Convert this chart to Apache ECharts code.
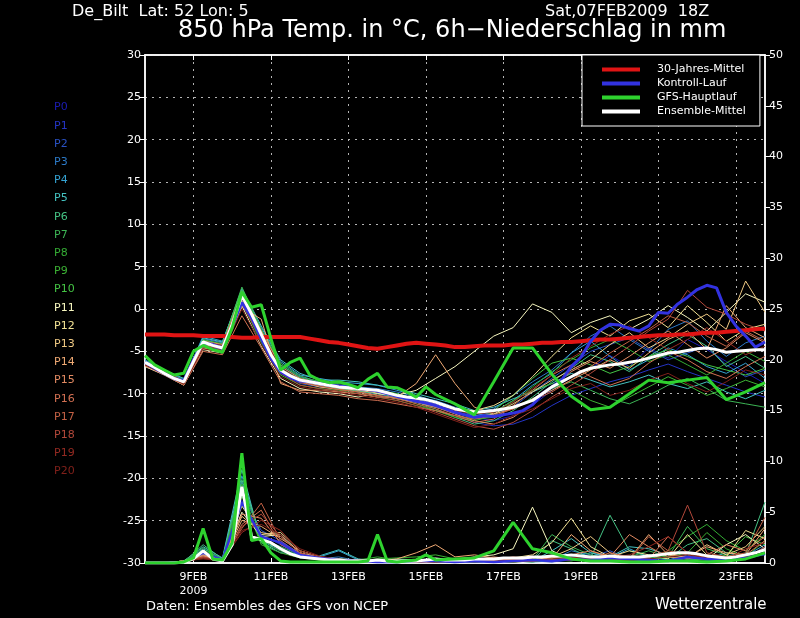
<!DOCTYPE html>
<html><head><meta charset="utf-8">
<script src="https://cdn.jsdelivr.net/npm/echarts@6/dist/echarts.min.js"></script>
<style>html,body{margin:0;padding:0;background:#000;}#c{width:800px;height:618px;}</style>
</head><body><div id="c"></div>
<script>
// x-axis tick labels (6-hourly steps from 07FEB 18Z)
const xLabelIndex = [5,13,21,29,37,45,53,61];
const xLabelText = ['9FEB\n2009','11FEB','13FEB','15FEB','17FEB','19FEB','21FEB','23FEB'];

const memberNames = ['P0','P1','P2','P3','P4','P5','P6','P7','P8','P9','P10','P11','P12','P13','P14','P15','P16','P17','P18','P19','P20'];
const memberColors = ['#1c1cb4','#2434c4','#2a52c4','#2c7ac8','#34a2d2','#44c2c0','#44c284','#3cb454','#34ac34','#3cb234','#44c444','#f8f8c0','#f2e294','#f0ca84','#f0aa74','#e28a62','#d27052','#c26044','#b2483a','#942a22','#80201a'];

// 30-Jahres-Mittel, 6-hourly temperature
const clim30 = [-3.0,-3.0,-3.0,-3.1,-3.1,-3.1,-3.2,-3.2,-3.2,-3.3,-3.4,-3.4,-3.3,-3.3,-3.3,-3.3,-3.3,-3.5,-3.7,-3.9,-4.0,-4.2,-4.4,-4.6,-4.7,-4.5,-4.3,-4.1,-4.0,-4.1,-4.2,-4.3,-4.5,-4.5,-4.4,-4.3,-4.3,-4.3,-4.2,-4.2,-4.1,-4.0,-4.0,-3.9,-3.9,-3.8,-3.7,-3.6,-3.6,-3.5,-3.4,-3.3,-3.2,-3.1,-3.1,-3.0,-3.0,-2.9,-2.8,-2.8,-2.7,-2.6,-2.5,-2.4,-2.3];
// Kontroll-Lauf, 6-hourly temperature
const ctrlTemp = [-6.3,-7.0,-7.6,-8.2,-8.5,-6.0,-4.0,-4.2,-4.6,-2.0,0.8,-1.0,-3.5,-5.8,-7.4,-8.1,-8.5,-8.6,-8.8,-9.0,-9.1,-9.2,-9.4,-9.5,-9.7,-10.0,-10.3,-10.6,-10.9,-11.1,-11.4,-11.8,-12.2,-12.5,-12.8,-12.6,-12.7,-12.5,-12.3,-12.0,-11.3,-10.0,-9.2,-8.4,-6.8,-5.7,-3.8,-2.5,-1.8,-1.9,-2.3,-2.6,-2.0,-0.4,-0.5,0.6,1.4,2.3,2.8,2.5,-0.4,-2.0,-3.2,-4.5,-3.9];
// GFS-Hauptlauf, temperature (12-hourly after day 7.5)
const gfsTemp = [-5.5,-6.6,-7.2,-7.8,-7.6,-5.0,-4.3,-4.8,-5.1,-2.2,2.0,0.2,0.5,-3.5,-7.2,-6.3,-5.8,-7.8,-8.4,-8.7,-8.6,-8.9,-9.3,-8.3,-7.6,-9.2,-9.3,-9.8,-10.4,-9.2,-10.1,null,-11.2,null,-12.5,null,-8.6,null,-4.6,null,-4.6,null,-7.7,null,-10.3,null,-11.9,null,-11.6,null,-10.0,null,-8.4,null,-8.7,null,-8.4,null,-8.1,null,-10.7,null,-9.8,null,-8.7];
// Ensemble-Mittel, 6-hourly temperature
const meanTemp = [-6.3,-6.9,-7.6,-8.2,-8.6,-6.2,-3.9,-4.3,-4.6,-1.8,1.6,-0.6,-3.0,-5.4,-7.2,-7.9,-8.4,-8.6,-8.8,-9.0,-9.2,-9.3,-9.4,-9.5,-9.6,-9.9,-10.2,-10.4,-10.5,-10.7,-11.0,-11.4,-11.8,-12.0,-12.2,-12.1,-12.0,-11.8,-11.6,-11.2,-10.8,-10.0,-9.2,-8.6,-8.0,-7.4,-7.0,-6.8,-6.6,-6.5,-6.3,-6.1,-5.8,-5.5,-5.2,-5.1,-4.9,-4.7,-4.6,-4.8,-5.1,-5.0,-4.9,-4.8,-4.8];

// precipitation (mm / 6h)
const gfsPrec = [0,0,0,0,0.1,0.5,3.4,0.4,0.3,2.0,10.8,2.2,2.4,1.0,0.2,0.1,0.1,0.1,0.1,0.1,0.1,0.1,0.1,0.2,2.8,0.2,0.1,0.2,0.3,0.8,0.3,null,0.4,null,0.5,null,1.2,null,4.0,null,1.4,null,1.0,null,0.4,null,0.2,null,0.2,null,0.1,null,0.1,null,0.2,null,0.2,null,0.1,null,0.2,null,0.4,null,1.0];
const meanPrec = [0,0,0,0,0.1,0.4,1.2,0.4,0.2,1.8,7.5,2.6,2.3,2.0,1.4,0.9,0.6,0.5,0.4,0.3,0.3,0.2,0.2,0.2,0.3,0.2,0.2,0.2,0.2,0.3,0.4,0.3,0.3,0.3,0.4,0.4,0.4,0.5,0.5,0.5,0.6,0.6,0.7,0.7,0.8,0.7,0.6,0.6,0.7,0.6,0.6,0.6,0.7,0.8,0.9,1.0,1.0,0.9,0.7,0.6,0.5,0.6,0.8,1.0,1.3];
const ctrlPrec12 = [0,0,0.1,1.0,0.3,6.0,2.6,2.0,0.8,0.5,0.3,0.2,0.1,0.1,0.2,0.2,0.1,0.2,0.1,0.2,0.3,0.2,0.4,0.3,0.5,0.4,0.3,0.2,0.6,0.4,0.3,0.5,0.9];

// members, 12-hourly temperature
const tempP0 = [-6.4,-7.5,-8.6,-4.2,-4.6,1.2,-3.5,-7.3,-8.6,-9.0,-9.3,-9.6,-9.8,-10.4,-10.8,-11.4,-12.0,-12.8,-13.2,-12.6,-11.4,-9.6,-8.0,-7.0,-5.5,-6.8,-4.6,-5.8,-3.6,-4.8,-6.2,-7.5,-8.8];
const tempP1 = [-6.2,-7.4,-8.5,-3.8,-4.4,1.8,-2.8,-6.8,-8.2,-8.8,-9.1,-9.4,-9.7,-10.2,-10.6,-11.2,-12.4,-13.4,-13.8,-13.6,-12.8,-11.4,-10.2,-9.4,-8.6,-8.0,-7.2,-6.5,-7.4,-8.2,-9.0,-9.8,-10.4];
const tempP2 = [-6.5,-7.6,-8.8,-4.4,-4.8,1.0,-3.8,-7.6,-8.8,-9.2,-9.4,-9.8,-10.0,-10.6,-11.0,-11.6,-12.2,-12.6,-12.4,-11.6,-9.8,-8.2,-6.6,-5.0,-4.2,-3.4,-4.8,-6.0,-5.2,-4.4,-6.6,-8.0,-7.2];
const tempP3 = [-6.0,-7.2,-8.3,-3.5,-4.0,2.2,-2.6,-6.6,-8.0,-8.6,-9.0,-9.2,-9.4,-9.8,-10.4,-10.8,-11.6,-12.2,-11.8,-10.2,-8.6,-7.2,-5.2,-3.2,-2.0,-3.6,-5.0,-2.4,-1.4,-3.8,-5.6,-4.0,-3.2];
const tempP4 = [-6.3,-7.3,-8.4,-3.2,-3.8,2.0,-2.2,-6.2,-7.8,-8.2,-8.6,-8.8,-9.0,-9.6,-10.2,-10.9,-11.8,-12.6,-12.2,-10.8,-9.0,-7.6,-5.2,-3.8,-5.6,-7.2,-6.0,-4.6,-5.4,-6.8,-7.6,-6.4,-8.2];
const tempP5 = [-6.1,-7.2,-8.2,-3.4,-3.9,2.4,-2.0,-6.0,-7.6,-8.4,-8.4,-8.6,-9.0,-9.4,-10.0,-10.6,-11.2,-12.0,-11.6,-10.6,-9.8,-8.8,-7.6,-8.4,-9.2,-8.6,-7.8,-8.8,-9.4,-8.6,-9.8,-10.6,-9.6];
const tempP6 = [-6.4,-7.6,-8.7,-4.0,-4.5,1.4,-3.2,-7.2,-8.4,-9.0,-9.4,-9.7,-10.0,-10.4,-11.0,-11.8,-12.8,-13.6,-13.2,-12.0,-10.4,-8.6,-7.0,-5.4,-6.2,-7.4,-5.6,-4.2,-3.0,-4.4,-6.8,-5.6,-7.0];
const tempP7 = [-6.2,-7.4,-8.4,-3.6,-4.2,2.6,-2.4,-6.4,-7.9,-8.6,-8.8,-9.2,-9.6,-10.0,-10.8,-11.4,-12.2,-13.0,-12.8,-11.6,-10.6,-9.4,-8.6,-9.6,-10.6,-11.2,-10.2,-9.0,-8.2,-9.4,-10.8,-11.2,-11.6];
const tempP8 = [-6.6,-7.7,-8.9,-4.6,-5.0,0.8,-4.0,-7.8,-9.0,-9.4,-9.6,-10.0,-10.4,-10.8,-11.4,-12.0,-12.8,-13.2,-12.6,-11.0,-9.2,-7.4,-6.0,-4.6,-3.6,-4.8,-6.2,-5.4,-6.6,-7.8,-6.4,-5.0,-6.2];
const tempP9 = [-6.3,-7.5,-8.6,-3.9,-4.3,1.9,-2.9,-7.0,-8.3,-8.8,-9.2,-9.5,-9.8,-10.4,-11.2,-12.0,-12.6,-13.0,-12.2,-10.8,-9.6,-8.8,-9.6,-10.8,-11.6,-10.4,-9.2,-8.0,-9.0,-10.2,-9.4,-8.4,-9.2];
const tempP10 = [-6.2,-7.4,-8.5,-3.7,-4.1,2.2,-2.5,-6.6,-8.1,-8.7,-9.0,-9.3,-9.6,-10.0,-10.6,-11.0,-11.8,-12.4,-12.0,-10.2,-8.2,-6.4,-5.8,-6.6,-7.6,-6.8,-5.6,-4.8,-5.6,-6.6,-7.2,-7.8,-7.0];
const tempP11 = [-6.8,-7.8,-9.0,-4.8,-5.2,0.4,-4.4,-8.2,-9.4,-9.8,-10.0,-10.4,-10.0,-10.2,-9.6,-8.2,-6.8,-5.0,-3.2,-2.2,0.6,-0.4,-2.8,-1.6,-0.8,-2.4,-1.2,0.4,-1.0,-2.6,-0.4,1.8,0.8];
const tempP12 = [-6.5,-7.6,-8.7,-4.2,-4.6,1.6,-3.0,-7.2,-8.5,-9.0,-9.3,-9.6,-9.9,-10.3,-10.7,-11.3,-11.8,-12.0,-11.4,-10.2,-8.0,-5.6,-3.4,-2.0,-3.2,-1.4,-0.6,-2.2,0.4,-1.6,-3.8,-2.4,-1.8];
const tempP13 = [-6.4,-7.5,-8.6,-4.0,-4.4,1.0,-3.4,-7.4,-8.6,-9.2,-9.5,-9.8,-10.2,-10.6,-11.0,-11.6,-12.2,-12.8,-12.4,-11.2,-9.8,-8.4,-7.2,-6.0,-4.2,-2.8,-4.6,-3.4,-1.8,-0.6,-2.4,3.3,-0.4];
const tempP14 = [-6.6,-7.6,-8.8,-4.6,-5.0,0.2,-1.2,-8.8,-9.6,-9.6,-9.8,-10.0,-10.4,-10.4,-8.8,-5.4,-8.8,-11.6,-12.4,-11.8,-10.6,-9.6,-8.4,-7.2,-6.0,-7.0,-5.2,-3.6,-2.6,-4.8,0.4,-2.2,-3.4];
const tempP15 = [-6.3,-7.4,-8.5,-3.8,-4.2,1.8,-2.6,-6.8,-8.2,-8.8,-9.1,-9.5,-9.8,-10.4,-11.0,-11.6,-12.4,-13.2,-13.6,-12.8,-11.2,-9.2,-7.4,-6.2,-7.0,-5.6,-4.0,-2.6,-4.2,-5.8,-4.6,-2.8,-4.0];
const tempP16 = [-6.7,-7.8,-9.0,-5.0,-5.4,-0.8,-4.6,-8.6,-9.8,-10.0,-10.2,-10.6,-10.8,-11.2,-11.6,-12.0,-12.6,-13.4,-13.0,-11.4,-9.6,-7.8,-6.6,-8.0,-9.0,-8.2,-6.4,-5.0,-6.0,-7.4,-8.2,-6.8,-5.6];
const tempP17 = [-6.4,-7.5,-8.6,-4.3,-4.7,1.3,-3.3,-7.4,-8.7,-9.1,-9.5,-9.8,-10.2,-10.6,-11.2,-11.8,-12.6,-13.0,-12.6,-11.8,-10.8,-9.8,-8.4,-6.8,-5.2,-3.8,-2.4,-0.8,-1.6,-3.2,-4.4,-2.6,-3.8];
const tempP18 = [-6.5,-7.6,-8.8,-4.5,-4.9,0.6,-3.6,-7.6,-9.0,-9.4,-9.7,-10.0,-10.4,-10.8,-11.4,-12.2,-13.0,-13.8,-14.2,-13.4,-12.0,-10.4,-9.0,-7.6,-6.0,-4.4,-2.6,-1.2,2.2,0.2,-0.6,-1.8,-2.6];
const tempP19 = [-6.3,-7.4,-8.5,-3.9,-4.3,1.5,-2.8,-7.0,-8.4,-8.9,-9.2,-9.5,-9.8,-10.2,-10.8,-11.4,-12.0,-12.4,-12.2,-11.0,-9.4,-7.8,-5.8,-4.4,-3.0,-2.0,-3.4,-4.8,-3.6,-2.2,-3.8,-5.4,-4.4];
const tempP20 = [-6.6,-7.7,-8.9,-4.7,-5.1,0.0,-4.2,-8.0,-9.2,-9.6,-9.9,-10.2,-10.6,-11.0,-11.6,-12.4,-13.2,-14.0,-13.6,-12.6,-11.8,-10.6,-9.4,-8.8,-10.2,-9.6,-8.4,-7.6,-8.8,-9.8,-8.6,-7.2,-7.8];

// members, 12-hourly precipitation
const precP0 = [0,0,0.1,0.8,0.2,6.2,2.4,1.6,0.6,0.4,0.2,0.1,0.1,0.1,0.2,0.3,0.2,0.1,0.2,0.1,0.3,0.2,0.4,0.2,0.3,0.6,0.3,0.2,0.4,0.3,0.5,0.8,1.2];
const precP1 = [0,0,0.2,1.0,0.3,7.4,2.8,1.8,0.7,0.5,0.3,0.1,0.1,0.2,0.1,0.2,0.1,0.2,0.1,0.2,0.2,0.4,0.3,0.5,0.2,0.4,0.2,0.3,0.2,0.4,0.3,0.6,1.4];
const precP2 = [0,0,0.1,0.9,0.2,6.8,3.2,2.2,0.9,0.6,0.4,0.2,0.1,0.1,0.2,0.2,0.1,0.1,0.2,0.3,0.2,0.1,0.3,0.6,1.2,0.4,0.3,0.2,0.5,0.3,0.4,0.9,0.8];
const precP3 = [0,0,0.2,1.2,0.3,8.0,2.6,1.4,0.6,0.4,0.6,0.2,0.1,0.2,0.1,0.3,0.2,0.1,0.1,0.2,0.4,0.3,1.2,0.8,0.4,0.2,0.3,0.6,0.4,0.3,0.2,0.5,1.6];
const precP4 = [0,0,0.1,1.4,0.4,8.6,2.2,1.2,0.8,0.6,1.2,0.3,0.2,0.1,0.2,0.2,0.1,0.2,0.3,0.2,0.1,0.2,0.6,1.0,0.5,1.4,0.6,0.3,0.8,0.5,0.3,0.7,1.8];
const precP5 = [0,0,0.2,1.6,0.5,9.2,2.0,1.0,0.9,0.7,1.3,0.4,0.2,0.1,0.1,0.3,0.2,0.1,0.2,0.1,0.2,1.2,2.4,1.0,0.6,1.6,1.4,0.8,0.6,0.4,1.0,0.6,1.4];
const precP6 = [0,0,0.1,1.8,0.4,8.2,2.6,1.4,0.7,0.5,0.4,0.3,0.2,0.4,0.3,0.2,0.1,0.2,0.1,0.3,0.2,2.2,1.4,0.5,4.7,1.2,0.6,0.4,1.8,2.4,1.0,0.8,6.0];
const precP7 = [0,0,0.2,1.5,0.3,7.8,2.4,1.6,0.8,0.4,0.3,0.2,0.3,0.2,0.2,0.1,0.2,0.1,0.2,0.1,0.3,2.8,1.6,0.8,0.4,0.6,1.2,0.6,3.6,1.4,0.8,0.5,1.0];
const precP8 = [0,0,0.1,1.3,0.3,7.2,2.0,1.2,0.6,0.3,0.2,0.3,0.6,0.3,0.2,0.4,0.3,0.2,0.1,0.2,0.1,0.4,0.8,0.5,0.3,0.6,0.4,1.2,2.6,3.8,2.2,1.2,2.8];
const precP9 = [0,0,0.2,1.1,0.2,6.6,1.8,1.0,0.5,0.3,0.2,0.2,0.4,0.5,0.6,0.8,0.4,0.3,0.2,0.1,0.2,0.3,0.5,0.4,0.2,0.3,0.8,0.6,1.0,3.0,1.4,0.6,2.2];
const precP10 = [0,0,0.1,1.0,0.3,5.8,2.2,1.4,0.6,0.4,0.3,0.2,0.1,0.2,0.2,0.3,0.2,0.3,0.2,0.1,0.4,0.3,0.2,0.6,0.4,0.2,0.3,0.6,0.4,0.3,0.8,2.6,1.8];
const precP11 = [0,0,0.1,0.7,0.2,5.0,2.6,2.8,1.0,0.5,0.3,0.1,0.1,0.2,0.1,0.2,0.3,0.6,0.8,1.4,5.5,1.2,0.4,0.3,0.2,0.4,0.3,0.2,0.6,0.4,1.8,2.8,1.4];
const precP12 = [0,0,0.2,0.9,0.3,5.6,2.8,3.0,1.2,0.6,0.2,0.2,0.1,0.1,0.2,0.3,0.2,0.4,0.3,0.5,0.8,2.0,4.4,1.6,0.6,1.2,0.8,0.4,2.8,0.8,0.6,3.2,2.4];
const precP13 = [0,0,0.1,0.6,0.2,4.6,3.0,2.6,1.0,0.4,0.3,0.2,0.1,0.2,0.1,0.2,0.1,0.3,0.2,0.4,0.3,0.6,1.4,2.6,1.0,0.4,0.6,1.0,0.5,1.8,0.8,1.6,3.6];
const precP14 = [0,0,0.2,0.8,0.2,4.2,3.6,2.4,1.2,0.6,0.4,0.3,0.2,0.4,1.0,1.8,0.6,0.8,0.5,0.3,0.2,0.4,2.8,1.2,0.6,0.4,2.8,0.8,0.6,1.6,1.0,0.8,3.4];
const precP15 = [0,0,0.1,0.7,0.3,4.8,4.4,2.0,1.0,0.5,0.3,0.2,0.1,0.1,0.2,0.3,0.2,0.3,0.6,0.4,0.3,0.5,0.8,1.2,0.6,2.8,1.6,0.6,0.4,0.8,1.8,1.2,2.6];
const precP16 = [0,0,0.2,0.6,0.2,3.8,5.2,1.8,0.9,0.4,0.2,0.1,0.2,0.1,0.2,0.1,0.3,0.2,0.4,0.3,0.2,0.3,0.5,0.4,1.0,0.6,0.4,2.6,1.0,0.5,0.3,0.8,2.2];
const precP17 = [0,0,0.1,0.5,0.3,3.4,5.9,2.2,0.8,0.3,0.2,0.2,0.1,0.2,0.1,0.2,0.1,0.2,0.3,0.6,0.4,0.2,0.3,0.6,0.4,0.3,2.6,1.2,0.8,0.4,0.6,1.0,4.5];
const precP18 = [0,0,0.2,0.6,0.2,3.6,4.8,2.6,1.0,0.4,0.3,0.1,0.1,0.1,0.2,0.2,0.1,0.3,0.2,0.1,0.2,0.3,0.4,0.3,0.2,0.4,0.6,1.2,5.7,1.0,0.6,0.4,1.6];
const precP19 = [0,0,0.1,0.5,0.2,3.0,4.2,3.2,1.2,0.6,0.2,0.2,0.1,0.2,0.1,0.1,0.2,0.1,0.2,0.3,0.2,0.4,0.6,0.3,0.5,0.8,1.6,2.6,1.0,0.6,0.4,1.4,2.0];
const precP20 = [0,0,0.2,0.4,0.2,3.2,3.8,2.8,1.4,0.7,0.3,0.1,0.1,0.1,0.2,0.1,0.1,0.2,0.1,0.2,0.3,0.2,0.3,0.4,0.3,0.2,0.4,0.6,0.8,0.5,0.3,0.6,1.0];

const memberTemps = [tempP0,tempP1,tempP2,tempP3,tempP4,tempP5,tempP6,tempP7,tempP8,tempP9,tempP10,tempP11,tempP12,tempP13,tempP14,tempP15,tempP16,tempP17,tempP18,tempP19,tempP20];
const memberPrecs = [precP0,precP1,precP2,precP3,precP4,precP5,precP6,precP7,precP8,precP9,precP10,precP11,precP12,precP13,precP14,precP15,precP16,precP17,precP18,precP19,precP20];

// categories: 65 six-hourly steps, 07FEB 18Z .. 23FEB 18Z
const categories = [];
for (let i = 0; i < 65; i++) {
  const h = 18 + 6 * i;
  categories.push((7 + Math.floor(h / 24)) + 'FEB ' + (h % 24) + 'Z');
}
function place12(arr) { // put 12-hourly values on the 6-hourly category axis
  const out = new Array(65).fill(null);
  arr.forEach((v, j) => { out[2 * j] = v; });
  return out;
}
const isTick = (idx) => xLabelIndex.indexOf(idx) >= 0;

const series = [];
memberNames.forEach((n, k) => {
  series.push({name:n, type:'line', data:place12(memberTemps[k]), connectNulls:true, showSymbol:false, silent:true,
    lineStyle:{width:1, color:memberColors[k]}, itemStyle:{color:memberColors[k]}, xAxisIndex:0, yAxisIndex:0});
  series.push({name:n, type:'line', data:place12(memberPrecs[k]), connectNulls:true, showSymbol:false, silent:true,
    lineStyle:{width:1, color:memberColors[k]}, itemStyle:{color:memberColors[k]}, xAxisIndex:0, yAxisIndex:1});
});
const RED='#e01414', BLUE='#3232e0', GREEN='#2ed22e', WHITE='#ffffff';
series.push({name:'30-Jahres-Mittel', type:'line', data:clim30, showSymbol:false, silent:true, lineStyle:{width:4,color:RED}, itemStyle:{color:RED}, yAxisIndex:0});
series.push({name:'Kontroll-Lauf', type:'line', data:ctrlTemp, showSymbol:false, silent:true, lineStyle:{width:3,color:BLUE}, itemStyle:{color:BLUE}, yAxisIndex:0});
series.push({name:'Kontroll-Lauf', type:'line', data:place12(ctrlPrec12), connectNulls:true, showSymbol:false, silent:true, lineStyle:{width:2.5,color:BLUE}, itemStyle:{color:BLUE}, yAxisIndex:1});
series.push({name:'Ensemble-Mittel', type:'line', data:meanTemp, showSymbol:false, silent:true, lineStyle:{width:3,color:WHITE}, itemStyle:{color:WHITE}, yAxisIndex:0});
series.push({name:'Ensemble-Mittel', type:'line', data:meanPrec, showSymbol:false, silent:true, lineStyle:{width:3,color:WHITE}, itemStyle:{color:WHITE}, yAxisIndex:1});
series.push({name:'GFS-Hauptlauf', type:'line', data:gfsTemp, connectNulls:true, showSymbol:false, silent:true, lineStyle:{width:3,color:GREEN}, itemStyle:{color:GREEN}, yAxisIndex:0});
series.push({name:'GFS-Hauptlauf', type:'line', data:gfsPrec, connectNulls:true, showSymbol:false, silent:true, lineStyle:{width:3,color:GREEN}, itemStyle:{color:GREEN}, yAxisIndex:1});

const FONT = 'DejaVu Sans';
const gridDots = {show:true, lineStyle:{color:'#b4b4b4', type:[2,5], width:1}};
const graphics = [
  {type:'text', left:72, top:4, style:{text:'De_Bilt  Lat: 52 Lon: 5', fill:'#fff', font:'16px "'+FONT+'"'}},
  {type:'text', left:545, top:4, style:{text:'Sat,07FEB2009  18Z', fill:'#fff', font:'16px "'+FONT+'"'}},
  {type:'text', left:178, top:19, style:{text:'850 hPa Temp. in °C, 6h\u2212Niederschlag in mm', fill:'#fff', font:'24px "'+FONT+'"'}},
  {type:'text', left:146, top:600, style:{text:'Daten: Ensembles des GFS von NCEP', fill:'#fff', font:'13px "'+FONT+'"'}},
  {type:'text', left:655, top:598, style:{text:'Wetterzentrale', fill:'#fff', font:'15px "'+FONT+'"'}}
];
memberNames.forEach((n, k) => {
  graphics.push({type:'text', left:54, top:102 + k * 18.2, style:{text:n, fill:memberColors[k], font:'11px "'+FONT+'"'}});
});

const chart = echarts.init(document.getElementById('c'), null, {renderer:'canvas'});
chart.setOption({
  backgroundColor:'#000',
  animation:false,
  textStyle:{fontFamily:FONT},
  grid:{left:145, right:35, top:55, bottom:55, show:true, borderColor:'#fff', borderWidth:1.5, backgroundColor:'transparent'},
  legend:{
    data:['30-Jahres-Mittel','Kontroll-Lauf','GFS-Hauptlauf','Ensemble-Mittel'],
    orient:'vertical', left:582, top:55, icon:'rect', itemWidth:38, itemHeight:4, itemGap:3,
    selectedMode:false,
    textStyle:{color:'#fff', fontSize:11, fontFamily:FONT, padding:[0,0,0,12]},
    backgroundColor:'#000', borderColor:'#fff', borderWidth:1, padding:[9,14,9,20], borderRadius:0
  },
  xAxis:[
    {type:'category', data:categories, boundaryGap:false, position:'bottom',
     axisLine:{show:true, onZero:false, lineStyle:{color:'#fff', width:1.5}},
     axisTick:{show:true, inside:true, length:5, interval:(i)=>isTick(i), lineStyle:{color:'#fff'}},
     axisLabel:{show:true, color:'#fff', fontSize:11, fontFamily:FONT, margin:7, lineHeight:14,
       interval:(i)=>isTick(i), formatter:(v, i)=>{const p = xLabelIndex.indexOf(i); return p >= 0 ? xLabelText[p] : '';}},
     splitLine:Object.assign({interval:(i)=>isTick(i)}, gridDots)},
    {type:'category', data:categories, boundaryGap:false, position:'top',
     axisLine:{show:true, onZero:false, lineStyle:{color:'#fff', width:1.5}},
     axisTick:{show:true, inside:true, length:5, interval:(i)=>isTick(i), lineStyle:{color:'#fff'}},
     axisLabel:{show:false}, splitLine:{show:false}}
  ],
  yAxis:[
    {type:'value', min:-30, max:30, interval:5, position:'left',
     axisLine:{show:true, lineStyle:{color:'#fff', width:1.5}},
     axisTick:{show:true, length:5, lineStyle:{color:'#fff'}},
     axisLabel:{color:'#fff', fontSize:11, fontFamily:FONT, margin:4},
     splitLine:gridDots},
    {type:'value', min:0, max:50, interval:5, position:'right',
     axisLine:{show:true, lineStyle:{color:'#fff', width:1.5}},
     axisTick:{show:true, length:5, lineStyle:{color:'#fff'}},
     axisLabel:{color:'#fff', fontSize:11, fontFamily:FONT, margin:4},
     splitLine:{show:false}}
  ],
  graphic:graphics,
  series:series
});
</script></body></html>
